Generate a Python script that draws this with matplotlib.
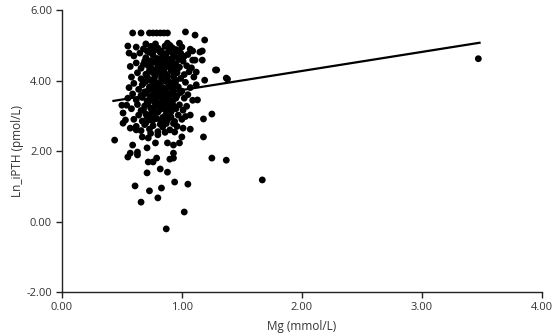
import numpy as np
import matplotlib
matplotlib.use('Agg')
import matplotlib.pyplot as plt

plt.rcParams['font.family'] = ['Open Sans', 'DejaVu Sans']

# outer / sparse points (Mg, Ln_iPTH)
mg_sparse = [0.59, 0.66, 0.73, 0.76, 0.79, 0.82, 0.85, 0.88, 1.03, 1.11, 1.19,
             0.55, 0.56, 0.70, 0.78, 0.88, 0.98, 1.07, 1.15, 1.09, 1.17, 1.29, 1.38, 1.19,
             1.09, 1.17, 1.11, 1.12, 1.28, 1.37,
             0.44, 0.51, 0.51, 0.54, 0.57, 0.62, 0.59, 0.57, 0.63, 0.71, 0.67, 0.72, 0.78, 0.88, 0.93,
             1.13, 1.25, 1.18, 1.07, 1.07, 0.94, 1.00, 0.98, 1.18, 0.93, 1.25, 1.37,
             0.61, 0.66, 0.73, 0.83, 0.80, 0.87, 0.71, 0.82, 0.88, 0.72, 0.76, 0.79, 0.90, 0.55, 0.63,
             0.94, 1.05, 1.02, 0.93, 0.50, 0.53,
             1.67, 3.47]
ln_sparse = [5.35, 5.35, 5.35, 5.35, 5.35, 5.35, 5.35, 5.35, 5.38, 5.29, 5.15,
             4.98, 4.78, 5.04, 5.04, 5.06, 5.06, 4.89, 4.81, 4.58, 4.58, 4.30, 4.04, 4.01,
             4.84, 4.84, 4.58, 4.24, 4.30, 4.07,
             2.31, 2.79, 3.08, 3.30, 2.65, 2.60, 2.17, 1.94, 1.97, 2.09, 2.40, 2.37, 2.23, 2.23, 2.17,
             3.45, 3.05, 2.91, 3.02, 2.62, 2.54, 2.40, 2.23, 2.40, 1.94, 1.80, 1.74,
             1.01, 0.55, 0.87, 0.95, 0.67, -0.21, 1.38, 1.49, 1.40, 1.69, 1.69, 1.80, 1.77, 1.83, 1.89,
             1.12, 1.06, 0.27, 1.80, 3.30, 2.88,
             1.18, 4.62]

# dense core of the cloud
mg_core = [0.62, 0.68, 0.74, 0.80, 0.86, 0.92, 0.95, 1.00, 0.90, 0.77,
           0.60, 0.65, 0.70, 0.73, 0.76, 0.79, 0.82, 0.84, 0.87, 0.89, 0.91, 0.94, 0.97, 0.99, 1.02, 1.05, 0.96, 0.86,
           0.57, 0.62, 0.66, 0.69, 0.72, 0.75, 0.77, 0.80, 0.83, 0.85, 0.88, 0.90, 0.93, 0.95, 0.98, 1.01, 1.04, 1.08, 0.81, 0.92,
           0.58, 0.63, 0.66, 0.70, 0.73, 0.74, 0.78, 0.80, 0.83, 0.86, 0.88, 0.91, 0.93, 0.96, 0.99, 1.02, 1.06, 1.10, 0.85, 0.76,
           0.56, 0.60, 0.64, 0.67, 0.70, 0.72, 0.75, 0.78, 0.80, 0.82, 0.85, 0.87, 0.89, 0.92, 0.94, 0.97, 1.00, 1.03, 1.07, 1.12, 0.83, 0.95,
           0.55, 0.59, 0.62, 0.66, 0.69, 0.71, 0.74, 0.77, 0.79, 0.81, 0.84, 0.86, 0.88, 0.91, 0.93, 0.96, 0.99, 1.02, 1.05, 1.09,
           0.58, 0.63, 0.66, 0.69, 0.72, 0.75, 0.77, 0.80, 0.82, 0.85, 0.87, 0.90, 0.92, 0.95, 0.98, 1.01, 1.04, 0.70,
           0.60, 0.64, 0.67, 0.71, 0.74, 0.76, 0.79, 0.83, 0.86, 0.88, 0.91, 0.94, 0.97, 1.00, 1.03,
           0.62, 0.66, 0.69, 0.73, 0.76, 0.80, 0.84, 0.87, 0.90, 0.96, 1.01,
           # second pass filling the gaps of the dense middle
           0.71, 0.77, 0.83, 0.89, 0.95, 0.74, 0.80, 0.86, 0.92, 0.98,
           0.68, 0.74, 0.79, 0.85, 0.91, 0.96, 0.71, 0.77, 0.83, 0.88, 0.94,
           0.68, 0.73, 0.79, 0.84, 0.90, 0.95, 0.70, 0.76, 0.82, 0.87, 0.93,
           0.67, 0.73, 0.78, 0.84, 0.89, 0.95, 0.71, 0.77, 0.82, 0.88, 0.93,
           0.68, 0.74, 0.80, 0.85, 0.91, 0.72, 0.78, 0.84, 0.89,
           0.70, 0.76, 0.82, 0.87, 0.93, 0.74, 0.80, 0.86]
ln_core = [4.95, 4.90, 4.97, 4.92, 4.98, 4.93, 4.88, 4.95, 5.00, 4.87,
           4.70, 4.78, 4.65, 4.80, 4.72, 4.62, 4.80, 4.68, 4.75, 4.60, 4.82, 4.70, 4.64, 4.78, 4.69, 4.74, 4.85, 4.63,
           4.40, 4.50, 4.35, 4.55, 4.42, 4.32, 4.52, 4.45, 4.36, 4.56, 4.40, 4.50, 4.33, 4.47, 4.38, 4.55, 4.42, 4.36, 4.58, 4.58,
           4.10, 4.22, 4.05, 4.18, 4.28, 4.02, 4.15, 4.25, 4.08, 4.20, 4.03, 4.27, 4.12, 4.22, 4.06, 4.17, 4.25, 4.10, 4.30, 4.22,
           3.80, 3.92, 3.75, 3.88, 3.98, 3.72, 3.85, 3.95, 3.78, 3.90, 3.73, 3.97, 3.84, 3.76, 3.92, 3.82, 3.70, 3.95, 3.80, 3.88, 3.99, 3.99,
           3.50, 3.62, 3.45, 3.58, 3.68, 3.42, 3.55, 3.65, 3.48, 3.60, 3.43, 3.67, 3.52, 3.62, 3.46, 3.57, 3.66, 3.50, 3.60, 3.44,
           3.20, 3.32, 3.15, 3.28, 3.38, 3.12, 3.25, 3.35, 3.18, 3.30, 3.13, 3.26, 3.37, 3.20, 3.31, 3.16, 3.27, 3.05,
           2.90, 3.02, 2.85, 2.97, 2.88, 3.05, 2.92, 2.83, 3.00, 2.88, 2.96, 2.84, 3.02, 2.90, 2.98,
           2.70, 2.58, 2.75, 2.62, 2.72, 2.55, 2.68, 2.78, 2.60, 2.70, 2.65,
           4.84, 4.86, 4.84, 4.87, 4.83, 4.56, 4.62, 4.50, 4.64, 4.60,
           4.46, 4.38, 4.33, 4.46, 4.40, 4.30, 4.12, 4.05, 4.18, 4.12, 4.04,
           3.93, 3.82, 3.87, 3.80, 3.94, 3.86, 3.66, 3.74, 3.68, 3.76, 3.69,
           3.52, 3.46, 3.57, 3.54, 3.44, 3.50, 3.34, 3.40, 3.26, 3.36, 3.28,
           3.17, 3.22, 3.10, 3.22, 3.11, 3.00, 3.08, 2.95, 3.06,
           2.80, 2.88, 2.76, 2.90, 2.78, 2.50, 2.46, 2.53]

# fitted line
fit_intercept = 3.19
fit_slope = 0.541

mg = np.array(mg_sparse + mg_core)
ln_pth = np.array(ln_sparse + ln_core)

fig = plt.figure(figsize=(5.57, 3.36), dpi=100)
ax = fig.add_axes([0.111, 0.131, 0.862, 0.839])

ax.scatter(mg, ln_pth, s=24, color='black', edgecolors='none', zorder=3)
xf = np.array([mg.min() - 0.01, mg.max() + 0.01])
ax.plot(xf, fit_intercept + fit_slope * xf, color='black', lw=1.6, zorder=4)

ax.set_xlim(0, 4)
ax.set_ylim(-2, 6)
ax.set_xticks(np.arange(0, 5, 1))
ax.set_yticks(np.arange(-2, 7, 2))
ax.set_xticklabels(['%.2f' % v for v in np.arange(0, 5, 1)])
ax.set_yticklabels(['%.2f' % v for v in np.arange(-2, 7, 2)])

for s in ['top', 'right']:
    ax.spines[s].set_visible(False)
for s in ['left', 'bottom']:
    ax.spines[s].set_color('#222222')
    ax.spines[s].set_linewidth(1.0)
ax.tick_params(direction='out', length=4, width=1, color='#222222',
               labelsize=8, labelcolor='#333333', pad=3)

ax.set_xlabel('Mg (mmol/L)', fontsize=8.5, color='#333333', labelpad=5)
ax.set_ylabel('Ln_iPTH (pmol/L)', fontsize=8.5, color='#333333', labelpad=2)

fig.savefig('out.png', dpi=100)
